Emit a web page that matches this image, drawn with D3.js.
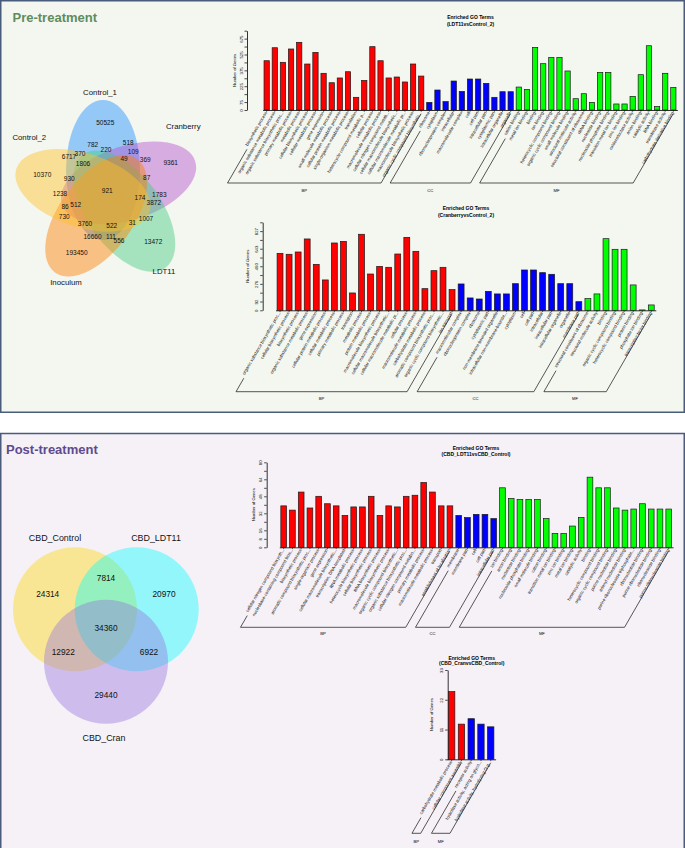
<!DOCTYPE html>
<html><head><meta charset="utf-8">
<script src="https://cdn.jsdelivr.net/npm/d3@7/dist/d3.min.js"></script>
<style>body{margin:0;background:#fff}svg{display:block}text{font-family:"Liberation Sans",Arial,sans-serif}</style>
</head><body><svg id="c" width="685" height="848"></svg>
<script>
// ---------------- DATA ----------------
const preTitle = "Pre-treatment";
const postTitle = "Post-treatment";

// Pre-treatment 5-set Venn
const preSets = ["Control_1", "Cranberry", "LDT11", "Inoculum", "Control_2"];
const preCounts = ["50525","518","782","220","109","370","6717","49","369","9361","1806","10370","930","87","921","1238","1783","174","3872","512","86","730","1007","3760","31","522","16660","111","556","13472","193450"];

// Post-treatment 3-set Venn
const postSets = ["CBD_Control", "CBD_LDT11", "CBD_Cran"];
const postCounts = ["24314","7814","20970","34360","12922","6922","29440"];

const groupNames = ["BP", "CC", "MF"];

// Chart 1: LDT11vsControl_2
const c1Title = ["Enriched GO Terms", "(LDT11vsControl_2)"];
const c1BPTerms = ["biosynthetic process","organic substance metabolic process","organic substance biosynthetic proc...","primary metabolic process","metabolic process","cellular biosynthetic process","cellular metabolic process","gene expression","small molecule metabolic process","cellular protein metabolic process","single-organism metabolic process","translation","heterocycle compound metabolic p...","cellular process","macromolecule metabolic process","cellular nitrogen compound metab...","cellular macromolecule biosynthetic...","cellular macromolecule metabolic pr...","macromolecule biosynthetic process","organic cyclic compound biosynthetic..."];
const c1BPValues = [466,589,451,577,640,435,545,347,258,303,362,120,280,599,466,303,312,265,435,321];
const c1CCTerms = ["ribosome","cytoplasm","ribonucleoprotein complex","intracellular","macromolecular complex","cell","cell part","intracellular part","cytoplasmic part","intracellular organelle","organelle"];
const c1CCValues = [72,189,79,274,176,293,293,252,120,173,173];
const c1MFTerms = ["cation binding","metal ion binding","binding","ion binding","heterocyclic compound binding","organic cyclic compound binding","small molecule binding","structural molecule activity","structural constituent of ribosome","rRNA binding","nucleotide binding","nucleoside phosphate binding","transition metal ion binding","zinc ion binding","oxidoreductase activity","anion binding","catalytic activity","RNA binding","transferase activity","carbohydrate derivative binding"];
const c1MFValues = [217,195,592,438,498,498,369,107,154,72,356,356,57,57,129,334,608,32,347,214];
const c1TickValues = [0,75,150,225,300,375,450,525,600,675,750];
const c1TickLabels = ["0","75","","225","","375","","525","","675",""];

// Chart 2: CranberryvsControl_2
const c2Title = ["Enriched GO Terms", "(CranberryvsControl_2)"];
const c2BPTerms = ["organic substance biosynthetic proc...","cellular biosynthetic process","biosynthetic process","organic substance metabolic process","gene expression","cellular protein metabolic process","cellular metabolic process","primary metabolic process","translation","metabolic process","protein metabolic process","macromolecule biosynthetic process","cellular macromolecule biosynthetic...","cellular macromolecule metabolic pr...","cellular process","macromolecule metabolic process","carbohydrate metabolic process","aromatic compound biosynthetic proc...","organic cyclic compound biosynthetic...","ion transport"];
const c2BPValues = [595,585,609,745,480,317,703,720,181,794,379,459,449,588,762,616,226,414,449,216];
const c2CCTerms = ["macromolecular complex","ribonucleoprotein complex","ribosome","cytoplasmic part","non-membrane-bounded organelle","intracellular non-membrane-bounde...","cytoplasm","cell","cell part","intracellular","intracellular part","intracellular organelle","organelle","membrane part"];
const c2CCValues = [275,129,118,198,171,171,278,421,421,393,376,278,278,90];
const c2MFTerms = ["structural constituent of ribosome","structural molecule activity","binding","organic cyclic compound binding","heterocyclic compound binding","protein binding","phosphate ion binding","transcription factor binding"];
const c2MFValues = [122,171,748,637,637,265,4,56];
const c2TickValues = [0,92,184,276,368,460,551,643,735,827,919];
const c2TickLabels = ["0","92","","276","","460","","643","","827",""];

// Chart 3: CBD_LDT11vsCBD_Control
const c3Title = ["Enriched GO Terms", "(CBD_LDT11vsCBD_Control)"];
const c3BPTerms = ["cellular nitrogen compound biosynth...","nucleobase-containing compound bios...","biosynthetic process","aromatic compound biosynthetic proc...","single-organism process","gene expression","cellular macromolecule biosynthetic...","transcription, DNA-templated","RNA metabolic process","heterocycle biosynthetic process","cellular biosynthetic process","RNA biosynthetic process","macromolecule biosynthetic process","organic cyclic compound biosynthetic...","organic substance biosynthetic proc...","cellular nitrogen compound metabo...","primary metabolic process","macromolecule metabolic process","transport","establishment of localization"];
const c3BPValues = [39,35,52,37,48,41,39,30,38,38,48,30,39,38,48,49,61,52,39,39];
const c3CCTerms = ["membrane","membrane part","cell","cell part","intracellular part"];
const c3CCValues = [30,28,31,31,27];
const c3MFTerms = ["ion binding","anion binding","nucleotide binding","nucleoside phosphate binding","small molecule binding","cation binding","transition metal ion binding","zinc ion binding","metal ion binding","catalytic activity","binding","heterocyclic compound binding","organic cyclic compound binding","purine nucleotide binding","adenyl nucleotide binding","purine ribonucleoside triphosphate...","ribonucleotide binding","purine ribonucleotide binding","ribonucleoside binding","purine ribonucleoside binding"];
const c3MFValues = [56,46,45,45,45,27,13,13,20,28,66,56,56,37,35,36,41,36,36,36];
const c3TickValues = [0,8,16,24,32,40,48,56,64,72,80];
const c3TickLabels = ["0","8","16","","32","","48","","64","","80"];

// Chart 4: CBD_CranvsCBD_Control
const c4Title = ["Enriched GO Terms", "(CBD_CranvsCBD_Control)"];
const c4BPTerms = ["carbohydrate metabolic process","cellular component assembly"];
const c4BPValues = [25,13];
const c4MFTerms = ["receptor activity","hydrolase activity, acting on glyco...","hydrolase activity, hydrolyzing O-g..."];
const c4MFValues = [15,13,12];
const c4TickValues = [0,11,22,33];
const c4TickLabels = ["0","11","22","33"];

// ---------------- LAYOUT / STYLE ----------------
const FONT = "Liberation Sans, Arial, sans-serif";
const barColors = ["#ff0000", "#0000ff", "#00ff00"];
const svg = d3.select("#c");

svg.append("rect").attr("width",685).attr("height",848).attr("fill","#ffffff");
svg.append("rect").attr("x",0.75).attr("y",0.75).attr("width",683.5).attr("height",411.5)
  .attr("fill","#f4f6f0").attr("stroke","#4a5c7c").attr("stroke-width",1.5);
svg.append("rect").attr("x",0.75).attr("y",433.5).attr("width",683.5).attr("height",420)
  .attr("fill","#f5f1f7").attr("stroke","#4a5c7c").attr("stroke-width",1.5);

svg.append("text").attr("x",12.5).attr("y",21.5).text(preTitle)
  .attr("font-size",13).attr("font-weight","bold").attr("fill","#5e8c5f").attr("font-family",FONT);
svg.append("text").attr("x",6).attr("y",453.5).text(postTitle)
  .attr("font-size",13).attr("font-weight","bold").attr("fill","#5d4b8e").attr("font-family",FONT);

// ----- Pre-treatment Venn (5 ellipses rotated by 72 deg) -----
const preCenter = [107, 194], preOffset = [-4, -24], preRx = 37, preRy = 70;
const preFill = ["#1e90ff","#b452cd","#43cd80","#ff7f00","#ffc125"];
const vennPre = svg.append("g");
preSets.forEach((s, i) => {
  const a = i * 72 * Math.PI / 180;
  const cx = preCenter[0] + preOffset[0]*Math.cos(a) - preOffset[1]*Math.sin(a);
  const cy = preCenter[1] + preOffset[0]*Math.sin(a) + preOffset[1]*Math.cos(a);
  vennPre.append("ellipse").attr("cx",cx).attr("cy",cy).attr("rx",preRx).attr("ry",preRy)
    .attr("transform",`rotate(${i*72},${cx},${cy})`)
    .attr("fill",preFill[i]).attr("fill-opacity",0.45).attr("stroke","none");
});
const preSetPos = [[100,95],[183.3,128.5],[164,274],[66,285],[29.3,140]];
preSets.forEach((s,i)=> vennPre.append("text").attr("x",preSetPos[i][0]).attr("y",preSetPos[i][1])
  .attr("text-anchor","middle").attr("font-size",7.8).attr("font-family",FONT).attr("fill","#111").text(s));
const preCountPos = [[105.3,122.7],[128.3,142.7],[92.7,144.3],[106,149.7],[133.3,151.3],[80,153.7],[69,156.3],[124,159],[145.3,160],[170.7,162.3],[83,163.7],[42.3,174.3],[69.3,179],[146.7,177.7],[107.3,190.7],[60,193.3],[159.3,194.3],[140,197.8],[153.8,203.2],[75.7,204.3],[65,206.3],[64.3,216.3],[146,218.7],[85,223.3],[132.3,223],[111.7,226],[92.5,236.3],[111,236.3],[119,240.7],[153.3,242],[76.7,252.7]];
preCounts.forEach((c,i)=> vennPre.append("text").attr("x",preCountPos[i][0]).attr("y",preCountPos[i][1]).attr("dy","0.35em")
  .attr("text-anchor","middle").attr("font-size",6.5).attr("font-family",FONT).attr("fill","#111").text(c));

// ----- Post-treatment Venn -----
const postCircles = [[75,609.3],[136.7,609.3],[106,661.7]], postR = 62;
const postFill = ["#ffd700","#00ffff","#9370db"];
const vennPost = svg.append("g");
postSets.forEach((s,i)=> vennPost.append("circle").attr("cx",postCircles[i][0]).attr("cy",postCircles[i][1]).attr("r",postR)
  .attr("fill",postFill[i]).attr("fill-opacity",0.4));
const postSetPos = [[55,540.5],[156,540.5],[104,741]];
postSets.forEach((s,i)=> vennPost.append("text").attr("x",postSetPos[i][0]).attr("y",postSetPos[i][1])
  .attr("text-anchor","middle").attr("font-size",8.9).attr("font-family",FONT).attr("fill","#111").text(s));
const postCountPos = [[47.7,594],[106,578],[164,594],[106,627.7],[63.3,652.3],[149,652.3],[106,695]];
postCounts.forEach((c,i)=> vennPost.append("text").attr("x",postCountPos[i][0]).attr("y",postCountPos[i][1]).attr("dy","0.35em")
  .attr("text-anchor","middle").attr("font-size",8.3).attr("font-family",FONT).attr("fill","#111").text(c));

// ----- GO bar charts -----
function drawGO(cfg, title, groups, tickValues, tickLabels) {
  const g = svg.append("g");
  const items = [];
  groups.forEach((gr, gi) => gr.terms.forEach((t, i) => items.push({term: t, value: gr.values[i], group: gi})));
  const x = d3.scaleBand().domain(d3.range(items.length)).range(cfg.xRange).paddingInner(0.35).paddingOuter(0.175);
  const y = d3.scaleLinear().domain([0, tickValues[tickValues.length - 1]]).range([cfg.base, cfg.top]);

  // title
  title.forEach((t, i) => g.append("text").attr("x", cfg.titleX).attr("y", cfg.titleY[i]).attr("text-anchor","middle")
    .attr("font-size",5).attr("font-weight","bold").attr("font-family",FONT).text(t));

  // y axis
  const ya = g.append("g").attr("transform",`translate(${cfg.axisX},0)`)
    .call(d3.axisLeft(y).tickValues(tickValues).tickFormat((d, i) => tickLabels[i]).tickSize(2.5).tickSizeOuter(0));
  ya.attr("font-size",4.3).attr("font-family",FONT);
  ya.select(".domain").attr("stroke-width",0.8);
  ya.selectAll(".tick line").attr("stroke-width",0.7);
  ya.selectAll(".tick text").attr("transform","rotate(-90)").attr("x",0).attr("y",-4.3).attr("dy",0).attr("text-anchor","middle");
  g.append("text").attr("transform",`translate(${cfg.axisX - cfg.yTitleOff},${(cfg.base + cfg.top) / 2}) rotate(-90)`)
    .attr("text-anchor","middle").attr("font-size",4.2).attr("font-family",FONT).text("Number of Genes");

  // x axis
  const xa = g.append("g").attr("transform",`translate(0,${cfg.base})`)
    .call(d3.axisBottom(x).tickSize(1.8).tickSizeOuter(0).tickFormat(""));
  xa.select(".domain").attr("stroke-width",0.8);
  xa.selectAll(".tick line").attr("stroke-width",0.6);

  // bars
  g.selectAll("rect.bar").data(items).enter().append("rect").attr("class","bar")
    .attr("x",(d, i) => x(i)).attr("y", d => y(d.value)).attr("width", x.bandwidth())
    .attr("height", d => cfg.base - y(d.value))
    .attr("fill", d => barColors[d.group]).attr("stroke","#1a1a1a").attr("stroke-width",0.7);

  // rotated labels
  const k = 1 / Math.tan(60 * Math.PI / 180), s60 = Math.sin(60 * Math.PI / 180);
  const lab = g.selectAll("text.lab").data(items).enter().append("text").attr("class","lab")
    .attr("transform",(d, i) => `translate(${x(i) + x.bandwidth() / 2 + 0.6},${cfg.base + 2.6}) rotate(-60)`)
    .attr("text-anchor","end").attr("font-size",4.3).attr("fill","#000").attr("font-family",FONT).text(d => d.term);
  const lens = [];
  lab.each(function(){ lens.push(this.getComputedTextLength()); });

  // brackets
  const B = cfg.bottom - cfg.base;
  let start = 0;
  groups.forEach((gr, gi) => {
    const fi = start, li = start + gr.terms.length - 1;
    start += gr.terms.length;
    const xf = x(fi) + x.bandwidth() / 2, xl = x(li) + x.bandwidth() / 2;
    const bl = xf + 3 - B * k, br = xl + 2 - B * k;
    let ly = cfg.base + 2.6 + lens[fi] * s60 + 3;
    ly = Math.min(ly, cfg.bottom - 5);
    const lx = xf + 3 - (ly - cfg.base) * k;
    const ry = cfg.base + 4, rx = xl + 2 - 4 * k;
    g.append("path").attr("d",`M${lx},${ly}L${bl},${cfg.bottom}L${br},${cfg.bottom}L${rx},${ry}`)
      .attr("fill","none").attr("stroke","#111").attr("stroke-width",0.7);
    g.append("text").attr("x",(bl + br) / 2).attr("y",cfg.glY).attr("text-anchor","middle")
      .attr("font-size",4.2).attr("font-family",FONT).text(gr.name);
  });
}

drawGO({axisX:247, base:110, top:30.7, xRange:[262.6,677.4], titleX:470.5, titleY:[19,25.7], bottom:183, glY:191.5, yTitleOff:11.5},
  c1Title,
  [{name:groupNames[0], terms:c1BPTerms, values:c1BPValues},
   {name:groupNames[1], terms:c1CCTerms, values:c1CCValues},
   {name:groupNames[2], terms:c1MFTerms, values:c1MFValues}],
  c1TickValues, c1TickLabels);

drawGO({axisX:262.7, base:310.3, top:222.3, xRange:[275.5,655.8], titleX:466, titleY:[210,216.7], bottom:391.7, glY:399.8, yTitleOff:14},
  c2Title,
  [{name:groupNames[0], terms:c2BPTerms, values:c2BPValues},
   {name:groupNames[1], terms:c2CCTerms, values:c2CCValues},
   {name:groupNames[2], terms:c2MFTerms, values:c2MFValues}],
  c2TickValues, c2TickLabels);

drawGO({axisX:266.7, base:547.3, top:462.3, xRange:[279.3,673.1], titleX:476, titleY:[450,456.3], bottom:627.3, glY:635, yTitleOff:11.7},
  c3Title,
  [{name:groupNames[0], terms:c3BPTerms, values:c3BPValues},
   {name:groupNames[1], terms:c3CCTerms, values:c3CCValues},
   {name:groupNames[2], terms:c3MFTerms, values:c3MFValues}],
  c3TickValues, c3TickLabels);

drawGO({axisX:447.7, base:759.3, top:670, xRange:[446.8,495.6], titleX:471.7, titleY:[659.5,664.7], bottom:833.3, glY:843, yTitleOff:14.4},
  c4Title,
  [{name:groupNames[0], terms:c4BPTerms, values:c4BPValues},
   {name:groupNames[2], terms:c4MFTerms, values:c4MFValues}],
  c4TickValues, c4TickLabels);
</script>
</body></html>
